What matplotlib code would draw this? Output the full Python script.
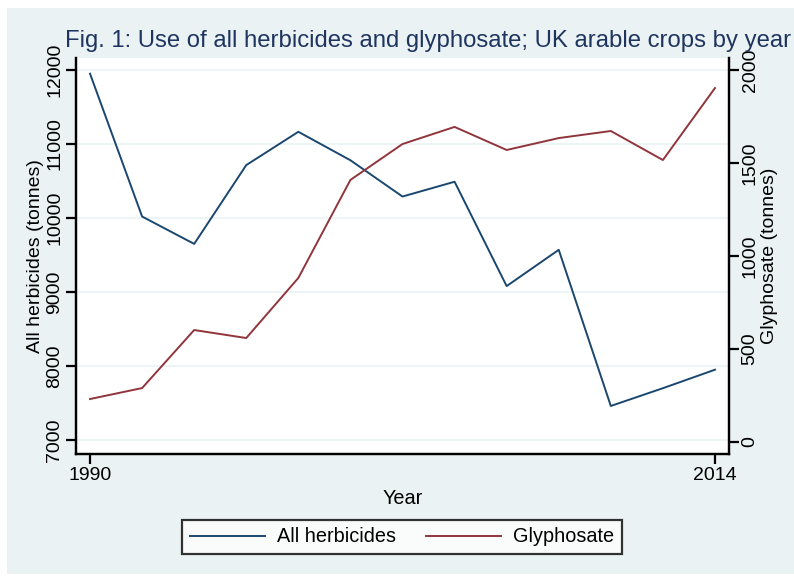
import matplotlib.pyplot as plt
from matplotlib.patches import Rectangle

plt.rcParams['font.family'] = ['Liberation Sans', 'DejaVu Sans']

years = [1990, 1992, 1994, 1996, 1998, 2000, 2002, 2004, 2006, 2008, 2010, 2012, 2014]
all_herbicides = [11950, 10020, 9650, 10715, 11165, 10780, 10290, 10490, 9080, 9570, 7460, 7700, 7950]
glyphosate = [231, 290, 602, 559, 882, 1409, 1602, 1694, 1570, 1634, 1672, 1516, 1903]

left_ticks = [7000, 8000, 9000, 10000, 11000, 12000]
right_ticks = [0, 500, 1000, 1500, 2000]

bg = '#eaf2f3'
blue = '#1a476f'
red = '#90353b'

W, H = 794, 576
fig = plt.figure(figsize=(W / 100, H / 100), dpi=100, facecolor='white')
fig.patches.append(Rectangle((7 / W, 2 / H), 1, (H - 10) / H, transform=fig.transFigure,
                             facecolor=bg, edgecolor='none', zorder=-10))

# plot region in pixels: x 76..729, y 58..454
ax = fig.add_axes([76 / W, (H - 454) / H, (729 - 76) / W, (454 - 58) / H])
ax.set_facecolor('white')
ax.plot(years, all_herbicides, color=blue, lw=1.4, label='All herbicides')
ax.set_xlim(1990 - 14 / 26, 2014 + 14 / 26)
ax.set_ylim(12000 - 1000 * (454 - 70) / 74, 12000 + 1000 * 12 / 74)
ax.set_yticks(left_ticks)
ax.set_xticks([1990, 2014])
ax.grid(axis='y', color=bg, lw=1.2)
ax.set_axisbelow(True)

ax2 = ax.twinx()
ax2.plot(years, glyphosate, color=red, lw=1.4, label='Glyphosate')
ax2.set_ylim(-12 / 0.186, 2000 + 12 / 0.186)
ax2.set_yticks(right_ticks)

for a in (ax, ax2):
    a.spines['top'].set_visible(False)
    for s in ('left', 'right', 'bottom'):
        a.spines[s].set_linewidth(1.6)
    a.tick_params(length=7, width=1.6, labelsize=14, pad=2)
ax.tick_params(axis='y', labelrotation=90)
ax2.tick_params(axis='y', labelrotation=90)
for lbl in ax.get_yticklabels():
    lbl.set_va('center')
for lbl in ax2.get_yticklabels():
    lbl.set_va('center')

ax.set_xlabel('Year', fontsize=14.3, labelpad=4)
ax.set_ylabel('All herbicides (tonnes)', fontsize=14, labelpad=2)
ax2.set_ylabel('Glyphosate (tonnes)', fontsize=14, labelpad=2)

fig.text(65 / W, (H - 47) / H, 'Fig. 1: Use of all herbicides and glyphosate; UK arable crops by year',
         fontsize=17.2, color='#1f3560', va='baseline', ha='left')

h1, l1 = ax.get_legend_handles_labels()
h2, l2 = ax2.get_legend_handles_labels()
leg = fig.legend(h1 + h2, l1 + l2, loc='center', bbox_to_anchor=(402 / W, (H - 537) / H),
                 ncol=2, fontsize=14.3, frameon=True, fancybox=False, handlelength=3.8,
                 handletextpad=0.6, columnspacing=1.5, borderpad=0.4, borderaxespad=0)
leg.get_frame().set_edgecolor('black')
leg.get_frame().set_linewidth(1.6)

fig.savefig('out.png', dpi=100, facecolor=fig.get_facecolor())
